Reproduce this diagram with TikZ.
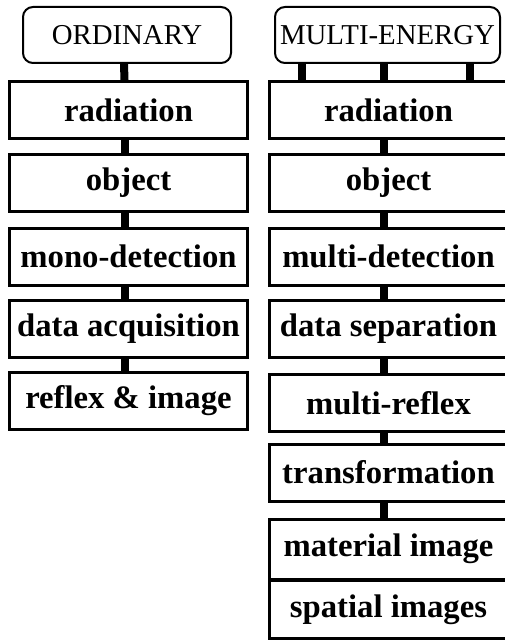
\documentclass[tikz,border=0pt]{standalone}
\usepackage{fontspec}
\setmainfont{Liberation Serif}
\usepackage{tikz}

\begin{document}
\begin{tikzpicture}[x=1pt,y=-1pt]
    \tikzset{head/.style = {shape=rectangle,draw,line width=2pt,rounded corners=10pt,minimum height=56pt,inner sep=0pt,font=\fontsize{28.8}{30}\selectfont}}
    \tikzset{stage/.style = {shape=rectangle,draw,line width=3pt,minimum width=238pt,minimum height=57pt,inner sep=0pt,font=\fontsize{32.7}{34}\selectfont\bfseries}}
    \tikzset{link/.style = {-,line width=8pt}}

    \useasboundingbox (0,0) rectangle (504,642);

    % ordinary chain
    \node[head,minimum width=208pt] (oh) at (127,35) {ORDINARY};
    \node[stage] (or) at (128.5,110) {radiation};
    \node[stage] (oo) at (128.5,182.5) {object};
    \node[stage] (od) at (128.5,256.5) {mono-detection};
    \node[stage] (oa) at (128.5,329) {data acquisition};
    \node[stage] (oi) at (128.5,401) {reflex \& image};

    % multi-energy chain
    \node[head,minimum width=225pt] (mh) at (387.5,35) {MULTI-ENERGY};
    \node[stage] (mr) at (388.5,110) {radiation};
    \node[stage] (mo) at (388.5,182.5) {object};
    \node[stage] (md) at (388.5,256.5) {multi-detection};
    \node[stage] (ms) at (388.5,329) {data separation};
    \node[stage] (mx) at (388.5,403) {multi-reflex};
    \node[stage] (mt) at (388.5,472.5) {transformation};
    \node[stage,minimum height=60pt] (mm) at (388.5,549) {material image};
    \node[stage,minimum height=58pt] (mi) at (388.5,609.5) {spatial images};

    % links
    \draw[link] ([xshift=-3pt]oh.south) to ([xshift=-4pt]or.north);
    \draw[link] ([xshift=-4pt]or.south) to ([xshift=-4pt]oo.north);
    \draw[link] ([xshift=-4pt]oo.south) to ([xshift=-4pt]od.north);
    \draw[link] ([xshift=-4pt]od.south) to ([xshift=-4pt]oa.north);
    \draw[link] ([xshift=-4pt]oa.south) to ([xshift=-4pt]oi.north);

    \draw[link] (mh.south -| 302,0) to (mr.north -| 302,0);
    \draw[link] ([xshift=-3.5pt]mh.south) to ([xshift=-4.5pt]mr.north);
    \draw[link] (mh.south -| 470,0) to (mr.north -| 470,0);
    \draw[link] ([xshift=-4.5pt]mr.south) to ([xshift=-4.5pt]mo.north);
    \draw[link] ([xshift=-4.5pt]mo.south) to ([xshift=-4.5pt]md.north);
    \draw[link] ([xshift=-4.5pt]md.south) to ([xshift=-4.5pt]ms.north);
    \draw[link] ([xshift=-4.5pt]ms.south) to ([xshift=-4.5pt]mx.north);
    \draw[link] ([xshift=-4.5pt]mx.south) to ([xshift=-4.5pt]mt.north);
    \draw[link] ([xshift=-4.5pt]mt.south) to ([xshift=-4.5pt]mm.north);
\end{tikzpicture}
\end{document}
